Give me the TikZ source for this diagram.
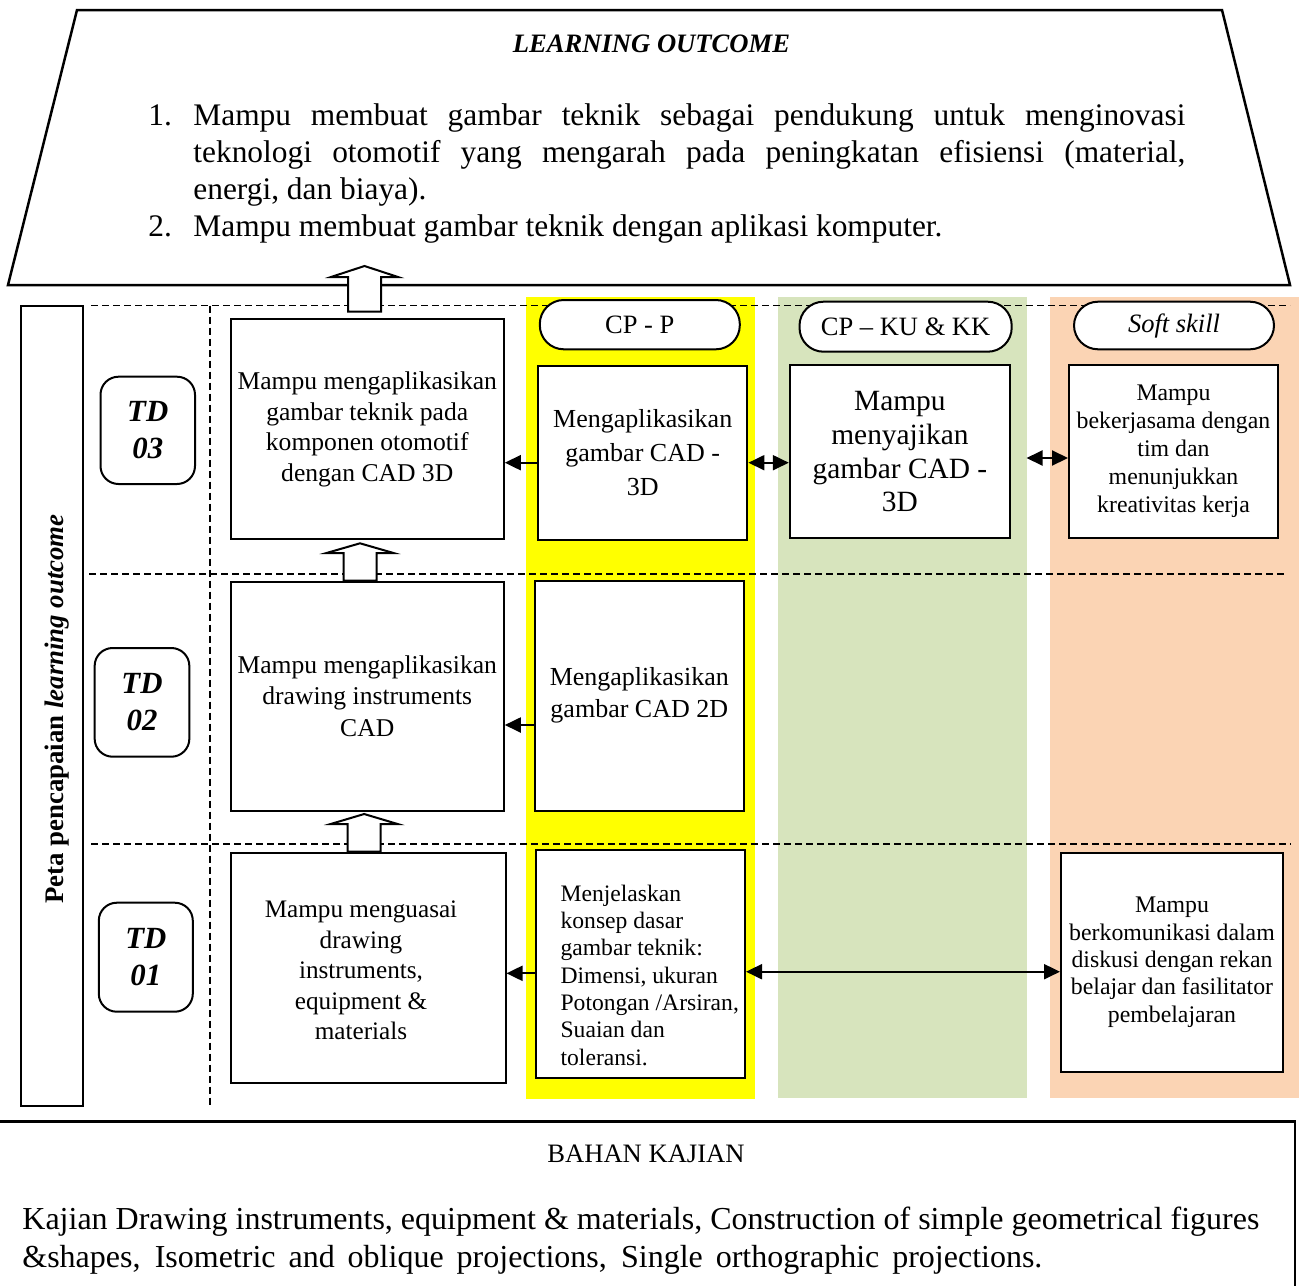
\documentclass[tikz,border=0pt]{standalone}
\usepackage{fontspec}
\setmainfont{Liberation Serif}
\usetikzlibrary{arrows.meta,calc}
\newcommand{\fsz}[2]{\fontsize{#1}{#2}\selectfont}
\definecolor{bandY}{HTML}{FFFF00}
\definecolor{bandG}{HTML}{D7E4BD}
\definecolor{bandO}{HTML}{FBD4B4}
\newcommand{\blkup}[4]{%
  \draw[blk] (#1-16.5,#4) -- (#1-16.5,#3) -- (#1-33.5,#3) -- (#1,#2) -- (#1+33.5,#3) -- (#1+16.5,#3) -- (#1+16.5,#4) -- cycle;}
\begin{document}
\begin{tikzpicture}[x=0.5pt,y=-0.5pt,
  box/.style={draw, line width=1pt, fill=white, inner sep=0pt, align=center},
  tdbox/.style={draw, line width=1pt, rounded corners=9pt, fill=white, inner sep=0pt, align=center, font=\bfseries\itshape\fsz{15.4}{18.3}},
  pill/.style={draw, line width=1pt, rounded corners=12pt, fill=white, inner sep=0pt, font=\fsz{13.25}{16}},
  dline/.style={dash pattern=on 3.5pt off 2pt, line width=0.75pt},
  arr/.style={line width=1pt, -{Triangle[length=8pt,width=7.5pt]}},
  darr/.style={line width=1pt, {Triangle[length=8pt,width=7.5pt]}-{Triangle[length=8pt,width=7.5pt]}},
  blk/.style={draw, line width=1pt, fill=white, line join=miter}
]
\path[use as bounding box] (0,0) rectangle (1299,1285);
\clip (0,0) rectangle (1299,1285);

% colour bands
\fill[bandY] (525.5,297) rectangle (755,1099);
\fill[bandG] (778,296.7) rectangle (1026.5,1097.7);
\fill[bandO] (1049.5,296.7) rectangle (1299,1097.7);

% dashed grid
\draw[dline] (91,305.5) -- (1290,305.5);
\draw[dline] (89,574) -- (1287,574);
\draw[dline] (91,844) -- (1291,844);
\draw[dline] (210,305.5) -- (210,1108);

% learning outcome trapezoid
\draw[line width=1.25pt, fill=white] (77,10) -- (1222,10) -- (1290,285) -- (8,285) -- cycle;
\node[font=\bfseries\itshape\fsz{13.3}{16}, anchor=base, inner sep=0pt] (lotitle) at (651.5,52) {LEARNING OUTCOME};
\node[anchor=base west, inner sep=0pt, font=\fsz{15.7}{18}] (n1) at (148,125) {1.};
\node[anchor=base west, inner sep=0pt, font=\fsz{15.7}{18}] (l1a) at (193,125) {\makebox[496pt][s]{Mampu membuat gambar teknik sebagai pendukung untuk menginovasi}};
\node[anchor=base west, inner sep=0pt, font=\fsz{15.7}{18}] (l1b) at (193,162) {\makebox[496pt][s]{teknologi otomotif yang mengarah pada peningkatan efisiensi (material,}};
\node[anchor=base west, inner sep=0pt, font=\fsz{15.7}{18}] (l1c) at (193,199) {energi, dan biaya).};
\node[anchor=base west, inner sep=0pt, font=\fsz{15.7}{18}] (n2) at (148,236) {2.};
\node[anchor=base west, inner sep=0pt, font=\fsz{15.7}{18}] (l2) at (193,236) {Mampu membuat gambar teknik dengan aplikasi komputer.};

% left vertical label
\node[box, minimum width=30.95pt, minimum height=400.15pt] (peta) at (51.65,705.85) {};
\node[rotate=90, anchor=base, inner sep=0pt, font=\bfseries\fsz{13.4}{16}] (petatxt) at (63.7,709) {Peta pencapaian \textit{learning outcome}};

% TD boxes
\node[tdbox, minimum width=47.25pt, minimum height=53.65pt] (td3) at (147.75,430.35) {TD\\03};
\node[tdbox, minimum width=47.35pt, minimum height=54.35pt] (td2) at (142,702.35) {TD\\02};
\node[tdbox, minimum width=47pt, minimum height=54.5pt] (td1) at (145.8,957.2) {TD\\01};

% competency boxes
\node[box, minimum width=136.55pt, minimum height=110pt, font=\fsz{12.8}{15.3}] (c3) at (367.25,429.3) {Mampu mengaplikasikan\\gambar teknik pada\\komponen otomotif\\dengan CAD 3D};
\node[box, minimum width=136.55pt, minimum height=114.5pt, font=\fsz{12.8}{15.7}] (c2) at (367.25,696.2) {Mampu mengaplikasikan\\drawing instruments\\CAD};
\node[box, minimum width=137.4pt, minimum height=115pt] (c1) at (368.1,967.7) {};
\node[align=center, inner sep=0pt, font=\fsz{12.6}{15.2}] (c1txt) at (361,970.5) {Mampu menguasai\\drawing\\instruments,\\equipment \&\\materials};

% header pills
\node[pill, minimum width=100pt, minimum height=24.65pt] (pp) at (639.8,324.65) {CP - P};
\node[pill, minimum width=106.1pt, minimum height=25pt] (pk) at (905.6,326.7) {CP -- KU \& KK};
\node[pill, minimum width=100pt, minimum height=23.8pt] (ps) at (1174,325.5) {\textit{Soft skill}};

% column boxes
\node[box, minimum width=104.7pt, minimum height=87pt, font=\fsz{13}{17}] (p3) at (642.7,453) {Mengaplikasikan\\gambar CAD -\\3D};
\node[box, minimum width=110.1pt, minimum height=86.65pt, font=\fsz{14.7}{16.9}] (k3) at (899.9,451.65) {Mampu\\menyajikan\\gambar CAD -\\3D};
\node[box, minimum width=104.5pt, minimum height=86.65pt, font=\fsz{11.9}{14}] (s3) at (1173.5,451.65) {Mampu\\bekerjasama dengan\\tim dan\\menunjukkan\\kreativitas kerja};
\node[box, minimum width=104.6pt, minimum height=115pt, font=\fsz{13}{16}] (p2) at (639.3,695.7) {Mengaplikasikan\\gambar CAD 2D};
\node[box, minimum width=104.65pt, minimum height=114.15pt] (p1) at (640.35,964.15) {};
\node[align=left, anchor=west, inner sep=0pt, font=\fsz{11.8}{13.67}] (p1txt) at (560.2,975) {Menjelaskan\\konsep dasar\\gambar teknik:\\Dimensi, ukuran\\Potongan /Arsiran,\\Suaian dan\\toleransi.};
\node[box, minimum width=111pt, minimum height=109.5pt, font=\fsz{11.9}{13.7}] (s1) at (1172,962.2) {Mampu\\berkomunikasi dalam\\diskusi dengan rekan\\belajar dan fasilitator\\pembelajaran};

% connectors
\draw[arr] (p3.west |- 0,462.7) -- (c3.east |- 0,462.7);
\draw[arr] (p2.west |- 0,725) -- (c2.east |- 0,725);
\draw[arr] (p1.west |- 0,973.3) -- (c1.east |- 0,973.3);
\draw[darr] (p3.east |- 0,462.7) -- (k3.west |- 0,462.7);
\coordinate (k3r) at (1026.5,458);
\draw[darr] (k3r) -- (s3.west |- k3r);
\draw[darr] (p1.east |- 0,971.7) -- (s1.west |- 0,971.7);

% block arrows
\blkup{364.5}{266}{277}{311.5}
\blkup{360}{543.3}{553}{580.7}
\blkup{364.15}{814}{824}{851.7}

% bahan kajian
\node[draw, line width=1.25pt, minimum width=650pt, minimum height=89.15pt, inner sep=0pt] (bahan) at (645,1210.85) {};
\node[anchor=base, inner sep=0pt, font=\fsz{13.3}{16}] (bktitle) at (646,1162) {BAHAN KAJIAN};
\node[anchor=base west, inner sep=0pt, font=\fsz{16}{19}] (bk1) at (22,1229) {\makebox[618.5pt][s]{Kajian Drawing instruments, equipment \& materials, Construction of simple geometrical figures}};
\node[anchor=base west, inner sep=0pt, font=\fsz{16}{19}] (bk2) at (22,1267) {\makebox[510pt][s]{\&shapes, Isometric and oblique projections, Single orthographic projections.}};
\end{tikzpicture}
\end{document}
